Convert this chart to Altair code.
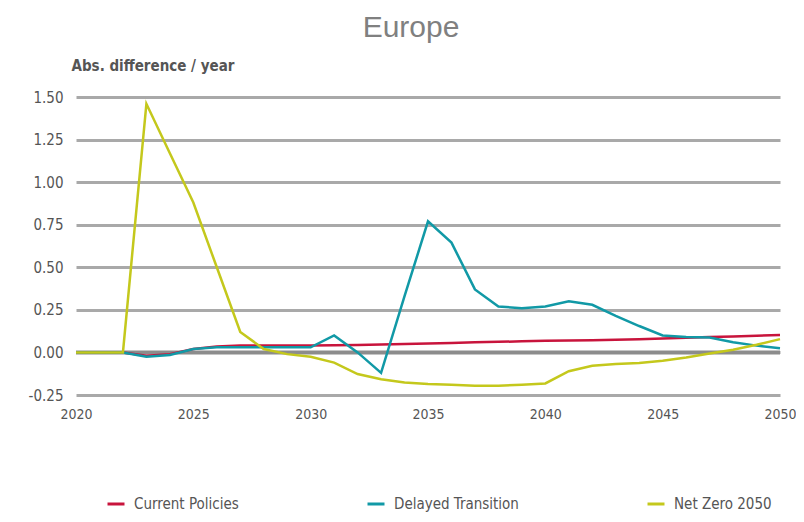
import altair as alt
import pandas as pd

years = list(range(2020, 2051))

current_policies = [0.0, 0.0, 0.0, -0.02, -0.01, 0.02, 0.035, 0.04, 0.04, 0.04, 0.04,
                    0.042, 0.044, 0.046, 0.05, 0.053, 0.056, 0.06, 0.062, 0.065, 0.068,
                    0.07, 0.072, 0.075, 0.078, 0.082, 0.086, 0.09, 0.094, 0.098, 0.102]

delayed_transition = [0.0, 0.0, 0.0, -0.025, -0.015, 0.02, 0.03, 0.03, 0.03, 0.03, 0.03,
                      0.10, 0.0, -0.12, 0.33, 0.77, 0.645, 0.37, 0.27, 0.26, 0.27,
                      0.30, 0.28, 0.215, 0.155, 0.10, 0.09, 0.088, 0.06, 0.04, 0.025]

net_zero_2050 = [0.0, 0.0, 0.0, 1.46, 1.17, 0.88, 0.50, 0.12, 0.02, -0.01, -0.025,
                 -0.06, -0.127, -0.157, -0.176, -0.186, -0.19, -0.195, -0.195, -0.19, -0.182,
                 -0.11, -0.078, -0.068, -0.062, -0.049, -0.03, -0.006, 0.016, 0.045, 0.078]

series_names = ["Current Policies", "Delayed Transition", "Net Zero 2050"]
series_colors = ["#c8143c", "#1199a6", "#c4c81c"]
x_ticks = [2020, 2025, 2030, 2035, 2040, 2045, 2050]
y_ticks = [-0.25, 0.0, 0.25, 0.5, 0.75, 1.0, 1.25, 1.5]

rows = []
for i, (name, vals) in enumerate(zip(series_names, [current_policies, delayed_transition, net_zero_2050])):
    for yr, v in zip(years, vals):
        rows.append({"year": yr, "value": v, "series": name, "order": i})
df = pd.DataFrame(rows)
zero_df = pd.DataFrame({"value": [0.0]})

NARROW = "DejaVu Sans Condensed, sans-serif"

y_axis = alt.Axis(
    values=y_ticks, format=".2f",
    labelExpr="replace(format(datum.value, '.2f'), '\u2212', '-')",
    grid=True, gridColor="#a9a9a9", gridWidth=3,
    ticks=False, domain=False, labelPadding=13,
    labelFont=NARROW, labelFontSize=15, labelColor="#555555",
    title="Abs. difference / year", titleAngle=0, titleX=-5, titleY=-27,
    titleAlign="left", titleBaseline="alphabetic",
    titleFont=NARROW, titleFontSize=15, titleFontWeight="bold", titleColor="#555555",
)
y_enc = alt.Y("value:Q", scale=alt.Scale(domain=[-0.25, 1.5], nice=False, zero=False), axis=y_axis)

x_enc = alt.X(
    "year:Q",
    scale=alt.Scale(domain=[2020, 2050], nice=False, zero=False),
    axis=alt.Axis(values=x_ticks, format="d", grid=False, ticks=False, domain=False,
                  labelPadding=12, title=None, labelFont=NARROW, labelFontSize=14,
                  labelColor="#555555", labelFlush=False, labelOverlap=False),
)

zero_rule = alt.Chart(zero_df).mark_rule(color="#8c8c8c", strokeWidth=4).encode(y=y_enc)

lines = alt.Chart(df).mark_line(strokeWidth=2.5).encode(
    x=x_enc,
    y=y_enc,
    color=alt.Color(
        "series:N",
        scale=alt.Scale(domain=series_names, range=series_colors),
        legend=alt.Legend(
            title=None, orient="none", legendX=30, legendY=397, direction="horizontal",
            symbolType="stroke", symbolSize=289, symbolStrokeWidth=3,
            labelFont=NARROW, labelFontSize=15, labelColor="#555555",
            labelOffset=8, columnPadding=122, padding=0,
        ),
    ),
    order="order:Q",
)

chart = alt.layer(zero_rule, lines).properties(
    width=704,
    height=298,
    autosize=alt.AutoSizeParams(type="none"),
    padding={"left": 68, "top": 89, "right": 16, "bottom": 119},
    title=alt.TitleParams("Europe", font="Liberation Sans", fontSize=30, fontWeight="normal",
                          color="#808080", anchor="middle", dx=-17, dy=-11),
).configure_view(stroke=None)

chart.save("out.html", embed_options={"renderer": "svg", "actions": False})
